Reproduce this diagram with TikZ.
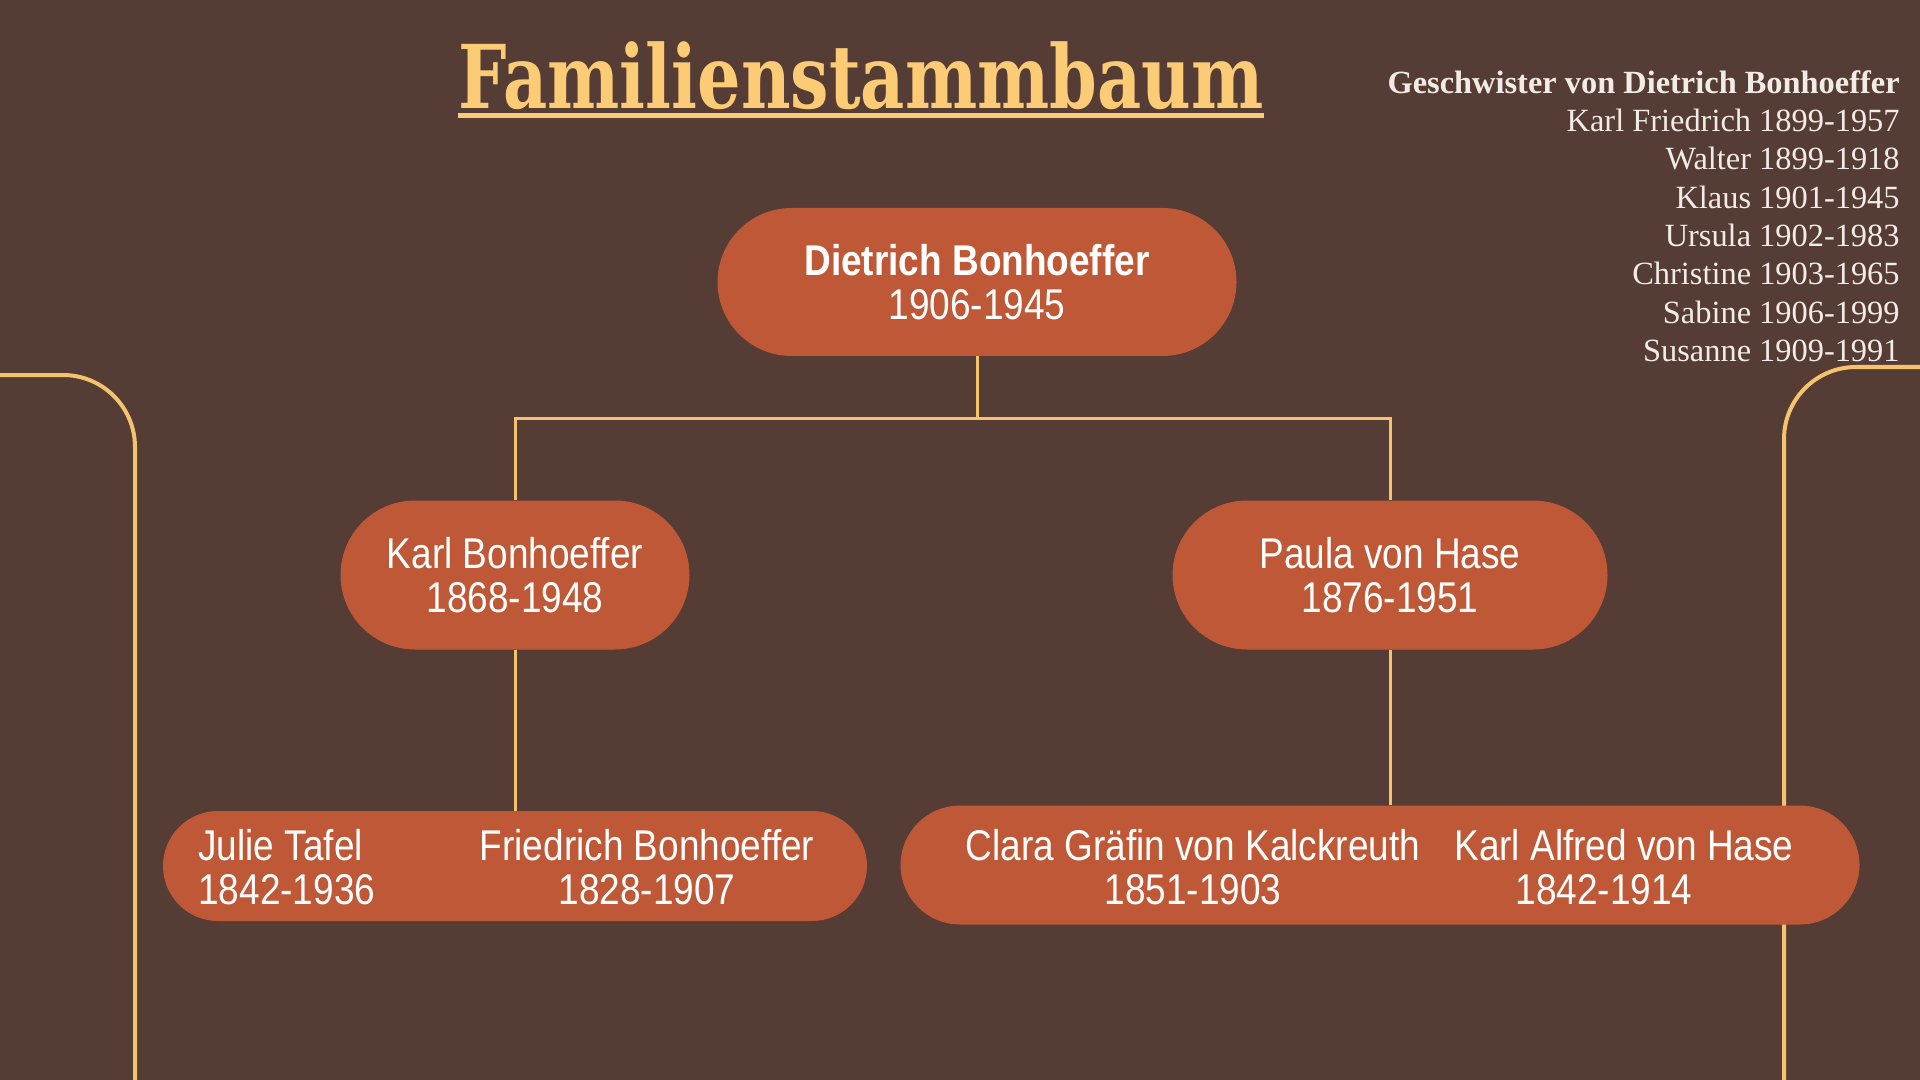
\documentclass[tikz,border=0pt]{standalone}
\usepackage{fontspec}
\usetikzlibrary{shapes.misc}
\setmainfont{Liberation Serif}
\newfontfamily\nodefont[FakeStretch=0.86]{Liberation Sans}
\newfontfamily\titlefont[FakeStretch=0.776]{DejaVu Serif}
\newfontfamily\sibfont{Liberation Serif}
\definecolor{bg}{HTML}{553C35}
\definecolor{boxc}{HTML}{BF5836}
\definecolor{linec}{HTML}{F5C36E}
\definecolor{titlec}{HTML}{FCCB75}
\definecolor{sibc}{HTML}{F3ECE6}
\tikzset{
  person/.style={rounded rectangle, fill=boxc, draw=none, inner sep=0pt,
    text=white, font=\nodefont\fontsize{21.5}{22}\selectfont, align=center},
  nametext/.style={inner sep=0pt, text=white, font=\nodefont\fontsize{21.5}{22}\selectfont},
  conn/.style={draw=linec, line width=1.5pt},
  deco/.style={draw=linec, line width=2pt},
}
\begin{document}
\begin{tikzpicture}[x=0.5pt, y=-0.5pt]
\fill[bg] (0,0) rectangle (1920,1080);
\useasboundingbox (0,0) rectangle (1920,1080);
% side decorations
\draw[deco, rounded corners=36pt] (-10,375) -- (135,375) -- (135,1090);
\draw[deco, rounded corners=36pt] (1784,1090) -- (1784,367) -- (1930,367);
% title
\node[anchor=base, inner sep=0pt, text=titlec, font=\titlefont\bfseries\fontsize{44}{48}\selectfont] (title) at (861,109) {Familienstammbaum};
\draw[draw=titlec, line width=2.5pt] ([yshift=-3.5pt]title.base west) -- ([yshift=-3.5pt]title.base east);
% siblings
\node[anchor=north east, inner sep=0pt, text=sibc, align=right, font=\sibfont\fontsize{16.2}{19.15}\selectfont] (sibs) at (1900,70)
{\textbf{Geschwister von Dietrich Bonhoeffer}\\
Karl Friedrich 1899-1957\\
Walter 1899-1918\\
Klaus 1901-1945\\
Ursula 1902-1983\\
Christine 1903-1965\\
Sabine 1906-1999\\
Susanne 1909-1991};
% persons
\node[person, minimum width=259.5pt, minimum height=74pt] (dietrich) at (977,282) {\textbf{Dietrich Bonhoeffer}\\1906-1945};
\node[person, minimum width=174.5pt, minimum height=74.5pt] (karl) at (515,575) {Karl Bonhoeffer\\1868-1948};
\node[person, minimum width=217.5pt, minimum height=74.5pt] (paula) at (1390,575) {Paula von Hase\\1876-1951};
\node[person, minimum width=352pt, minimum height=55pt] (gpL) at (515,866) {};
\node[person, minimum width=479.5pt, minimum height=59.5pt] (gpR) at (1380,865) {};
\node[nametext, anchor=west, align=left] (julie) at (198,867) {Julie Tafel\\1842-1936};
\node[nametext, align=center] (friedrich) at (647,867) {Friedrich Bonhoeffer\\1828-1907};
\node[nametext, align=center] (clara) at (1193,867) {Clara Gräfin von Kalckreuth\\1851-1903};
\node[nametext, align=center] (alfred) at (1624,867) {Karl Alfred von Hase\\\hspace*{-20pt}1842-1914};
% connectors
\coordinate (bar) at (977,418);
\draw[conn] (dietrich.south) -- (bar);
\draw[conn] (karl.north) |- (bar) -| (paula.north);
\draw[conn] (karl.south) -- (gpL.north);
\draw[conn] (paula.south) -- (paula.south |- gpR.north);
\end{tikzpicture}
\end{document}
